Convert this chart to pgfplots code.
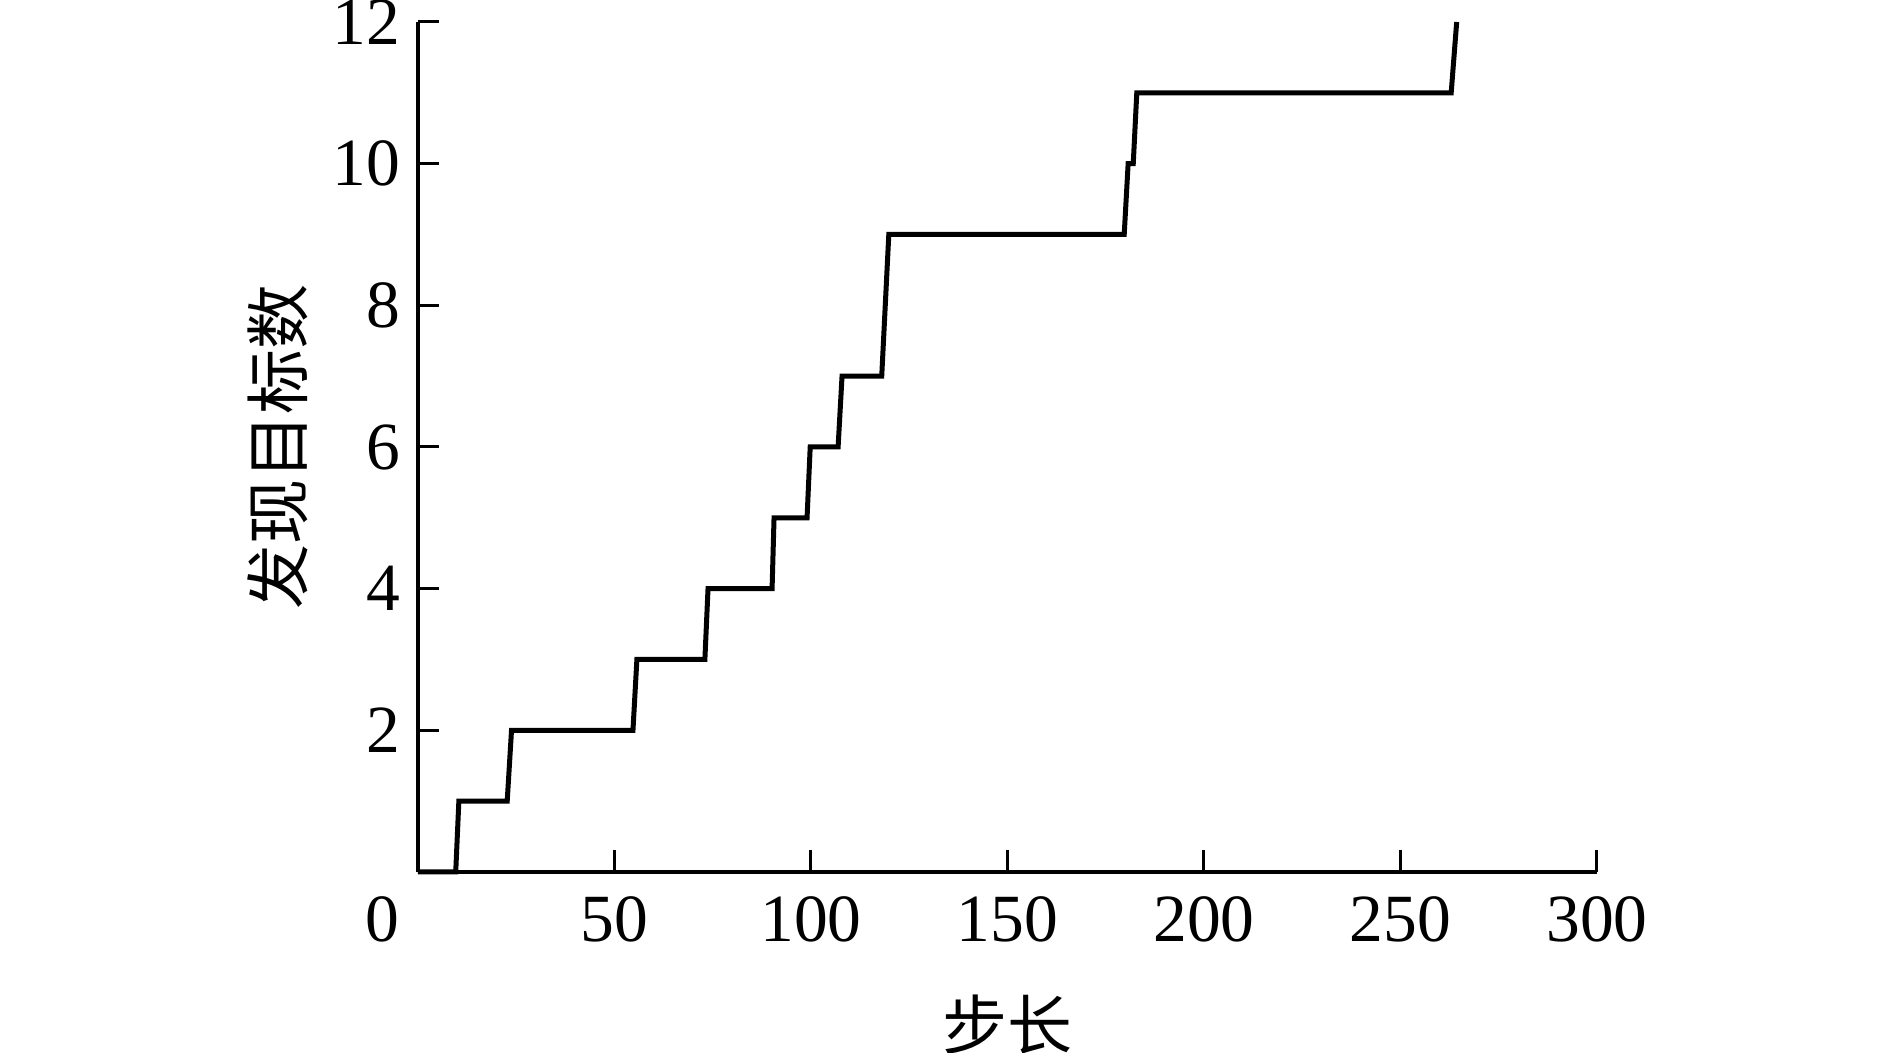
\documentclass[border=0pt]{standalone}
\usepackage{pgfplots}
\pgfplotsset{compat=1.18}
\usepackage{fontspec}
\setmainfont{Liberation Serif}
\newfontfamily\cjk{Noto Sans CJK SC}

\begin{document}
\begin{tikzpicture}
% page frame as in the reference (labels at the edges are cut)
\useasboundingbox (-83.6pt,-36.2pt) rectangle (294.2pt,174.4pt);
\begin{axis}[
    scale only axis,
    width=235.8pt, height=170pt,
    xmin=0, xmax=300, ymin=0, ymax=12,
    axis lines*=left,
    axis line style={line width=0.7pt},
    clip=false,
    xtick={50,100,...,300},
    ytick={2,4,...,12},
    extra x ticks={0},
    extra x tick style={major tick length=0pt, xticklabel style={xshift=-7.2pt}},
    tick align=inside,
    major tick length=4.3pt,
    tick style={line width=0.6pt, black},
    tick label style={font=\fontsize{13.5}{16}\selectfont},
    xticklabel style={yshift=-1.3pt},
    /pgf/number format/assume math mode=true,
    xlabel={\cjk 步长},
    ylabel={\cjk 发现目标数},
    label style={font=\fontsize{13}{16}\selectfont},
    xlabel style={at={(axis description cs:0.5,-0.18)}, anchor=center},
    ylabel style={at={(axis description cs:-0.119,0.5)}, anchor=center},
]
\addplot[black, line width=1pt, no marks] coordinates {
    (0,0) (9.6,0) (10.4,1) (22.7,1) (23.8,2) (54.7,2) (55.7,3)
    (73.0,3) (73.8,4) (90.1,4) (90.6,5) (99.0,5) (99.8,6)
    (106.9,6) (107.9,7) (118.0,7) (119.8,9) (179.7,9) (180.7,10)
    (182.0,10) (182.9,11) (262.9,11) (264.3,12)
};
\end{axis}
\end{tikzpicture}
\end{document}
